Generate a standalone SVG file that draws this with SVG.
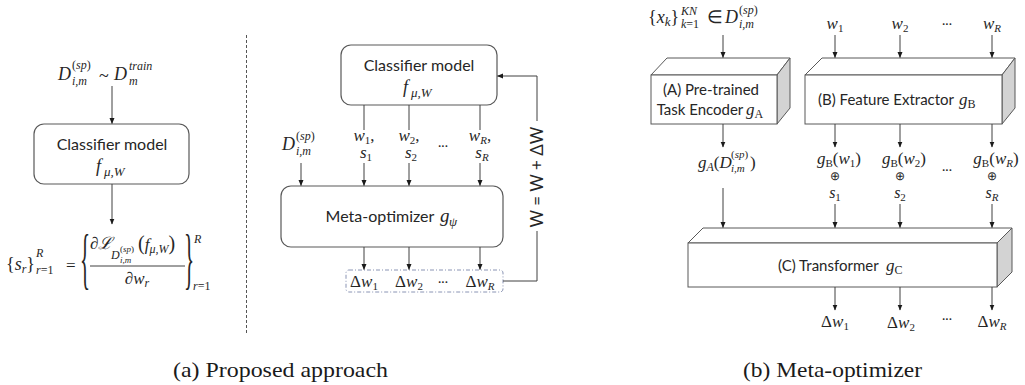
<svg xmlns="http://www.w3.org/2000/svg" width="1025" height="385" viewBox="0 0 1025 385">
<style>
.lbl{font-family:Lato,"Noto Sans",sans-serif;fill:#262626}
.m{font-family:"Liberation Serif","Times New Roman",serif;font-style:italic;fill:#262626}
.u{font-style:normal}
.cap{font-family:"Liberation Serif","Times New Roman",serif;fill:#1a1a1a}
.box{fill:#fff;stroke:#595959;stroke-width:1.2}
.face{fill:#fff;stroke:#595959;stroke-width:1}
.side{fill:#d3d3d3;stroke:#595959;stroke-width:1}
.ln{stroke:#404040;stroke-width:1;fill:none}
.arr{stroke:#404040;stroke-width:1;fill:none;marker-end:url(#ah)}
</style>
<defs>
<marker id="ah" markerWidth="6" markerHeight="6" refX="5.5" refY="3" orient="auto" markerUnits="userSpaceOnUse"><path d="M0,0.5 L6,3 L0,5.5 z" fill="#1a1a1a"/></marker>
</defs>

<!-- ===== Panel (a) ===== -->
<g id="a-input">
<text class="m" x="58" y="80" font-size="18">D</text>
<text class="m" x="72" y="69" font-size="12"><tspan class="u">(</tspan>sp<tspan class="u">)</tspan></text>
<text class="m" x="72" y="85" font-size="12">i,m</text>
<text class="m" x="99" y="82" font-size="18"><tspan class="u">~</tspan></text>
<text class="m" x="114" y="80" font-size="18">D</text>
<text class="m" x="129" y="70" font-size="12">train</text>
<text class="m" x="129" y="85" font-size="12">m</text>
</g>

<g id="a-classifier">
<rect class="box" x="34" y="124" width="155" height="60" rx="10"/>
<text class="lbl" x="112" y="150" font-size="16" text-anchor="middle">Classifier model</text>
<text class="m" x="96" y="172" font-size="18">f</text>
<text class="m" x="104" y="176" font-size="13">μ,W</text>
</g>

<g id="a-formula">
<text class="m" x="6" y="270" font-size="18"><tspan class="u">{</tspan>s<tspan font-size="12" dy="3">r</tspan><tspan class="u" dy="-3">}</tspan></text>
<text class="m" x="36" y="257" font-size="12">R</text>
<text class="m" x="36" y="274" font-size="12">r<tspan class="u">=1</tspan></text>
<text class="m" x="66" y="271" font-size="17"><tspan class="u">=</tspan></text>
<text class="m" transform="translate(80,281) scale(1,3.2)" font-size="21"><tspan class="u">{</tspan></text>
<text class="m" x="90" y="249" font-size="17">∂ℒ</text>
<text class="m" x="111" y="259" font-size="12">D</text>
<text class="m" x="120" y="252" font-size="9"><tspan class="u">(</tspan>sp<tspan class="u">)</tspan></text>
<text class="m" x="120" y="263" font-size="9">i,m</text>
<text class="m" x="138" y="250" font-size="17"><tspan class="u" font-size="20">(</tspan>f<tspan font-size="12" dy="3">μ,W</tspan><tspan class="u" font-size="20" dy="-3">)</tspan></text>
<line x1="90" y1="266" x2="185" y2="266" stroke="#404040" stroke-width="1"/>
<text class="m" x="137" y="284" font-size="17" text-anchor="middle">∂w<tspan font-size="12" dy="3">r</tspan></text>
<text class="m" transform="translate(184,281) scale(1,3.2)" font-size="21"><tspan class="u">}</tspan></text>
<text class="m" x="194" y="243" font-size="12">R</text>
<text class="m" x="193" y="290" font-size="12">r<tspan class="u">=1</tspan></text>
</g>

<line x1="246.5" y1="35" x2="246.5" y2="333" stroke="#555" stroke-width="1" stroke-dasharray="3,2"/>

<g id="m-classifier">
<rect class="box" x="341" y="45" width="156" height="60" rx="10"/>
<text class="lbl" x="419" y="71" font-size="16" text-anchor="middle">Classifier model</text>
<text class="m" x="403" y="93" font-size="18">f</text>
<text class="m" x="411" y="97" font-size="13">μ,W</text>
</g>

<g id="m-inputs">
<text class="m" x="282" y="150" font-size="18">D</text>
<text class="m" x="296" y="140" font-size="12"><tspan class="u">(</tspan>sp<tspan class="u">)</tspan></text>
<text class="m" x="296" y="155" font-size="12">i,m</text>
<text class="m" x="364" y="141" font-size="17" text-anchor="middle">w<tspan class="u" font-size="11" dy="3">1</tspan><tspan class="u" dy="-3">,</tspan></text>
<text class="m" x="366" y="158" font-size="17" text-anchor="middle">s<tspan class="u" font-size="11" dy="3">1</tspan></text>
<text class="m" x="409" y="141" font-size="17" text-anchor="middle">w<tspan class="u" font-size="11" dy="3">2</tspan><tspan class="u" dy="-3">,</tspan></text>
<text class="m" x="411" y="158" font-size="17" text-anchor="middle">s<tspan class="u" font-size="11" dy="3">2</tspan></text>
<text class="lbl" x="443" y="147" font-size="14" text-anchor="middle">...</text>
<text class="m" x="480" y="141" font-size="17" text-anchor="middle">w<tspan font-size="11" dy="3">R</tspan><tspan class="u" dy="-3">,</tspan></text>
<text class="m" x="482" y="158" font-size="17" text-anchor="middle">s<tspan font-size="11" dy="3">R</tspan></text>
</g>

<g id="m-metaopt">
<rect class="box" x="281" y="186" width="222" height="61" rx="10"/>
<text class="lbl" x="380" y="222" font-size="16" text-anchor="middle">Meta-optimizer</text>
<text class="m" x="440" y="222" font-size="19">g</text>
<text class="m" x="449" y="226" font-size="13">ψ</text>
</g>

<g id="m-deltas">
<rect x="346" y="270" width="157" height="22" rx="3" fill="none" stroke="#8a94b4" stroke-width="1" stroke-dasharray="4,2,1,2"/>
<text class="m" x="364" y="287" font-size="17" text-anchor="middle"><tspan class="u">Δ</tspan>w<tspan class="u" font-size="11" dy="3">1</tspan></text>
<text class="m" x="409" y="287" font-size="17" text-anchor="middle"><tspan class="u">Δ</tspan>w<tspan class="u" font-size="11" dy="3">2</tspan></text>
<text class="lbl" x="443" y="283" font-size="14" text-anchor="middle">...</text>
<text class="m" x="480" y="287" font-size="17" text-anchor="middle"><tspan class="u">Δ</tspan>w<tspan font-size="11" dy="3">R</tspan></text>
</g>

<g id="m-update">
<text class="lbl" transform="translate(543,177) rotate(-90)" font-size="17" text-anchor="middle">W = W + ΔW</text>
</g>

<!-- ===== Panel (b) ===== -->
<g id="b-input-x">
<text class="m" x="648" y="23" font-size="18"><tspan class="u">{</tspan>x<tspan font-size="13" dy="3">k</tspan><tspan class="u" dy="-3">}</tspan></text>
<text class="m" x="681" y="15" font-size="12">KN</text>
<text class="m" x="681" y="28" font-size="12">k<tspan class="u">=1</tspan></text>
<text class="m" x="707" y="23" font-size="18"><tspan class="u">∈</tspan></text>
<text class="m" x="725" y="23" font-size="18">D</text>
<text class="m" x="739" y="14" font-size="12"><tspan class="u">(</tspan>sp<tspan class="u">)</tspan></text>
<text class="m" x="739" y="28" font-size="12">i,m</text>
</g>

<g id="b-input-w">
<text class="m" x="835" y="29" font-size="17" text-anchor="middle">w<tspan class="u" font-size="11" dy="3">1</tspan></text>
<text class="m" x="900" y="29" font-size="17" text-anchor="middle">w<tspan class="u" font-size="11" dy="3">2</tspan></text>
<text class="lbl" x="947" y="25" font-size="14" text-anchor="middle">...</text>
<text class="m" x="992" y="29" font-size="17" text-anchor="middle">w<tspan font-size="11" dy="3">R</tspan></text>
</g>

<g id="b-encoder">
<polygon class="face" points="651,75 667,58 790,58 777,75"/>
<polygon class="side" points="777,75 790,58 790,108 777,124"/>
<rect class="face" x="651" y="75" width="126" height="49"/>
<text class="lbl" x="711" y="95" font-size="15" text-anchor="middle">(A) Pre-trained</text>
<text class="lbl" x="700" y="115" font-size="15" text-anchor="middle">Task Encoder</text>
<text class="m" x="746" y="115" font-size="17">g<tspan class="u" font-size="12" dy="3">A</tspan></text>
</g>

<g id="b-extractor">
<polygon class="face" points="805,75 822,58 1015,58 1002,75"/>
<polygon class="side" points="1002,75 1015,58 1015,108 1002,124"/>
<rect class="face" x="805" y="75" width="197" height="49"/>
<text class="lbl" x="818" y="105" font-size="15">(B) Feature Extractor</text>
<text class="m" x="959" y="105" font-size="17">g<tspan class="u" font-size="12" dy="3">B</tspan></text>
</g>

<g id="b-features">
<text class="m" x="698" y="168" font-size="17">g<tspan font-size="12" dy="3">A</tspan><tspan class="u" dy="-3">(</tspan>D</text>
<text class="m" x="731" y="158" font-size="11"><tspan class="u">(</tspan>sp<tspan class="u">)</tspan></text>
<text class="m" x="731" y="172" font-size="11">i,m</text>
<text class="m" x="750" y="168" font-size="17"><tspan class="u">)</tspan></text>
<text class="m" x="839" y="164" font-size="17" text-anchor="middle">g<tspan class="u" font-size="11" dy="3">B</tspan><tspan class="u" dy="-3">(</tspan>w<tspan class="u" font-size="11" dy="3">1</tspan><tspan class="u" dy="-3">)</tspan></text>
<text class="m" x="904" y="164" font-size="17" text-anchor="middle">g<tspan class="u" font-size="11" dy="3">B</tspan><tspan class="u" dy="-3">(</tspan>w<tspan class="u" font-size="11" dy="3">2</tspan><tspan class="u" dy="-3">)</tspan></text>
<text class="m" x="996" y="164" font-size="17" text-anchor="middle">g<tspan class="u" font-size="11" dy="3">B</tspan><tspan class="u" dy="-3">(</tspan>w<tspan font-size="11" dy="3">R</tspan><tspan class="u" dy="-3">)</tspan></text>
<text class="m" x="835" y="180" font-size="12" text-anchor="middle"><tspan class="u">⊕</tspan></text>
<text class="m" x="900" y="180" font-size="12" text-anchor="middle"><tspan class="u">⊕</tspan></text>
<text class="m" x="992" y="180" font-size="12" text-anchor="middle"><tspan class="u">⊕</tspan></text>
<text class="lbl" x="947" y="171" font-size="14" text-anchor="middle">...</text>
<text class="m" x="835" y="198" font-size="16" text-anchor="middle">s<tspan class="u" font-size="11" dy="3">1</tspan></text>
<text class="m" x="900" y="198" font-size="16" text-anchor="middle">s<tspan class="u" font-size="11" dy="3">2</tspan></text>
<text class="m" x="992" y="198" font-size="16" text-anchor="middle">s<tspan font-size="11" dy="3">R</tspan></text>
</g>

<g id="b-transformer">
<polygon class="face" points="688,243 703,228 1012,228 997,243"/>
<polygon class="side" points="997,243 1012,228 1012,272 997,287"/>
<rect class="face" x="688" y="243" width="309" height="44"/>
<text class="lbl" x="778" y="271" font-size="15">(C) Transformer</text>
<text class="m" x="886" y="271" font-size="17">g<tspan class="u" font-size="12" dy="3">C</tspan></text>
</g>

<g id="b-outputs">
<text class="m" x="835" y="327" font-size="17" text-anchor="middle"><tspan class="u">Δ</tspan>w<tspan class="u" font-size="11" dy="3">1</tspan></text>
<text class="m" x="901" y="328" font-size="17" text-anchor="middle"><tspan class="u">Δ</tspan>w<tspan class="u" font-size="11" dy="3">2</tspan></text>
<text class="lbl" x="947" y="320" font-size="14" text-anchor="middle">...</text>
<text class="m" x="992" y="327" font-size="17" text-anchor="middle"><tspan class="u">Δ</tspan>w<tspan font-size="11" dy="3">R</tspan></text>
</g>

<g id="connectors">
<line class="arr" x1="112" y1="86" x2="112" y2="123.5"/>
<line class="arr" x1="112" y1="184" x2="112" y2="224"/>
<line class="ln" x1="364" y1="105" x2="364" y2="130"/>
<line class="ln" x1="409" y1="105" x2="409" y2="130"/>
<line class="ln" x1="480" y1="105" x2="480" y2="130"/>
<line class="arr" x1="301" y1="163" x2="301" y2="185.5"/>
<line class="arr" x1="364" y1="163" x2="364" y2="185.5"/>
<line class="arr" x1="409" y1="163" x2="409" y2="185.5"/>
<line class="arr" x1="480" y1="163" x2="480" y2="185.5"/>
<line class="arr" x1="364" y1="247" x2="364" y2="269.5"/>
<line class="arr" x1="409" y1="247" x2="409" y2="269.5"/>
<line class="arr" x1="480" y1="247" x2="480" y2="269.5"/>
<polyline class="ln" points="503,281 537,281 537,231"/>
<polyline class="arr" points="537,121 537,76 497.5,76"/>
<line class="arr" x1="723" y1="35" x2="723" y2="57.5"/>
<line class="arr" x1="835" y1="35" x2="835" y2="57.5"/>
<line class="arr" x1="900" y1="35" x2="900" y2="57.5"/>
<line class="arr" x1="992" y1="35" x2="992" y2="57.5"/>
<line class="arr" x1="723" y1="124" x2="723" y2="147"/>
<line class="arr" x1="835" y1="124" x2="835" y2="147"/>
<line class="arr" x1="900" y1="124" x2="900" y2="147"/>
<line class="arr" x1="992" y1="124" x2="992" y2="147"/>
<line class="arr" x1="723" y1="188" x2="723" y2="227.5"/>
<line class="arr" x1="835" y1="204" x2="835" y2="227.5"/>
<line class="arr" x1="900" y1="204" x2="900" y2="227.5"/>
<line class="arr" x1="992" y1="204" x2="992" y2="227.5"/>
<line class="arr" x1="835" y1="287" x2="835" y2="310"/>
<line class="arr" x1="900" y1="287" x2="900" y2="310"/>
<line class="arr" x1="992" y1="287" x2="992" y2="310"/>
</g>

<g id="captions">
<text class="cap" x="173" y="377" font-size="21" textLength="215" lengthAdjust="spacingAndGlyphs">(a) Proposed approach</text>
<text class="cap" x="743" y="377" font-size="21" textLength="179" lengthAdjust="spacingAndGlyphs">(b) Meta-optimizer</text>
</g>
</svg>
